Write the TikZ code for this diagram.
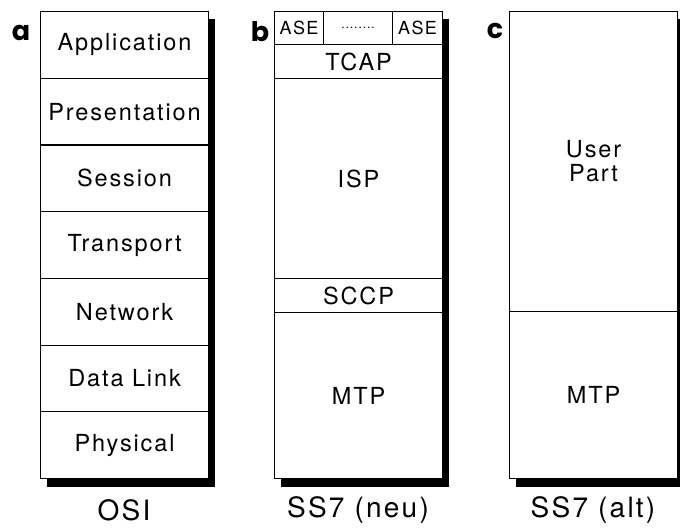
\documentclass[tikz,border=0pt]{standalone}
\usepackage{fontspec}
\setmainfont[LetterSpace=8]{TeX Gyre Heros}
\newfontfamily\tagfont{Poppins}
\begin{document}
\begin{tikzpicture}[x=1pt,y=-1pt,
  layer/.style={draw, line width=1.1pt, inner sep=0pt, anchor=north west,
    align=center, fill=white, font=\fontsize{23.5}{24}\selectfont},
  shadowbox/.style={fill=black},
  tag/.style={font=\tagfont\bfseries\fontsize{27}{27}\selectfont, inner sep=0pt},
  caption/.style={font=\fontsize{28}{28}\selectfont, inner sep=0pt}]
\useasboundingbox (0,0) rectangle (680,528);

% drop shadows behind the three stacks
\fill[shadowbox] (47,19) rectangle (215,487);
\fill[shadowbox] (281,19) rectangle (449,487);
\fill[shadowbox] (516,19) rectangle (684,487);

% OSI stack
\node[layer, minimum width=168pt, minimum height=66.71pt] (app) at (40,11) {Application};
\node[layer, minimum width=168pt, minimum height=66.71pt] (pres) at (40,77.71) {Presentation};
\node[layer, minimum width=168pt, minimum height=66.71pt] (sess) at (40,144.43) {Session};
\node[layer, minimum width=168pt, minimum height=66.71pt] (trans) at (40,211.14) {Transport};
\node[layer, minimum width=168pt, minimum height=66.71pt] (net) at (40,277.86) {Network};
\node[layer, minimum width=168pt, minimum height=66.71pt] (dl) at (40,344.57) {Data Link};
\node[layer, minimum width=168pt, minimum height=66.71pt] (phy) at (40,411.29) {Physical};

% SS7 (new) stack
\node[layer, minimum width=49pt, minimum height=33pt, font=\fontsize{18}{18}\selectfont] (ase1) at (274,11) {ASE};
\node[layer, minimum width=69pt, minimum height=33pt, font=\fontsize{12}{12}\selectfont] (asedots) at (323,11) {........};
\node[layer, minimum width=50pt, minimum height=33pt, font=\fontsize{18}{18}\selectfont] (ase2) at (392,11) {ASE};
\node[layer, minimum width=168pt, minimum height=34pt] (tcap) at (274,44) {TCAP};
\node[layer, minimum width=168pt, minimum height=200pt] (isp) at (274,78) {ISP};
\node[layer, minimum width=168pt, minimum height=34pt] (sccp) at (274,278) {SCCP};
\node[layer, minimum width=168pt, minimum height=166pt] (mtpb) at (274,312) {MTP};

% SS7 (old) stack
\node[layer, minimum width=168pt, minimum height=300pt] (user) at (509,11) {User\\Part};
\node[layer, minimum width=168pt, minimum height=167pt] (mtpc) at (509,311) {MTP};

% panel letters
\node[tag] (ta) at (21,33) {a};
\node[tag] (tb) at (260,32) {b};
\node[tag] (tc) at (495,31) {c};

% captions
\node[caption] (osi) at (124,510) {OSI};
\node[caption] (neu) at (358,510) {SS7 (neu)};
\node[caption] (alt) at (593,510) {SS7 (alt)};
\end{tikzpicture}
\end{document}
